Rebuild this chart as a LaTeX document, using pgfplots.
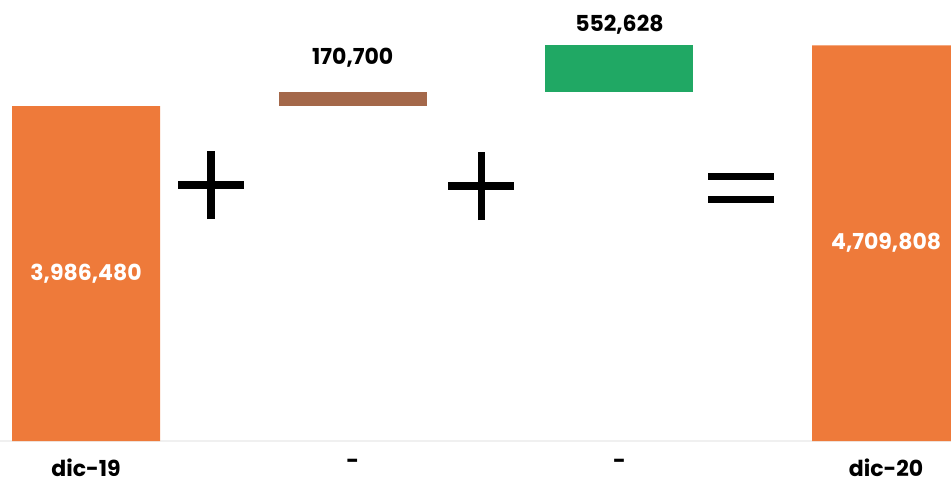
\documentclass[border=0pt]{standalone}
\usepackage{pgfplots}
\pgfplotsset{compat=1.18}
\usepackage{fontspec}
\setmainfont{Poppins}
\definecolor{bar1}{RGB}{238,122,58}
\definecolor{brn}{RGB}{164,104,74}
\definecolor{grn}{RGB}{32,168,100}
\tikzset{vl/.style={font=\fontsize{22bp}{26bp}\selectfont\bfseries}, sg/.style={line width=7.5bp}}
\begin{document}
\begin{tikzpicture}
\path[use as bounding box] (0,-42bp) rectangle (951bp,441bp);
\begin{axis}[
  at={(0,0)}, anchor=south west,
  scale only axis, width=951bp, height=441bp,
  ybar stacked, bar width=148bp,
  xmin=-0.3225, xmax=3.2433, ymin=0, ymax=5250000,
  enlargelimits=false,
  axis x line*=bottom, axis y line=none,
  axis line style={draw=black!6, line width=1.2bp},
  xtick={0,1,2,3}, xticklabels={dic-19,-,-,dic-20},
  xtick style={draw=none},
  scaled y ticks=false,
  xticklabel style={font=\fontsize{22bp}{26bp}\selectfont\bfseries, inner sep=0pt, yshift=-18bp, anchor=north},
]
\addplot[draw=none, fill=white, fill opacity=0] coordinates {(0,0) (1,3986480) (2,4157180) (3,0)};
\addplot[draw=none, fill=bar1] coordinates {(0,3986480) (1,0) (2,0) (3,4709808)};
\addplot[draw=none, fill=brn] coordinates {(0,0) (1,170700) (2,0) (3,0)};
\addplot[draw=none, fill=grn] coordinates {(0,0) (1,0) (2,552628) (3,0)};
\coordinate (L1) at (axis cs:0,1993240);
\coordinate (L4) at (axis cs:3,2354904);
\node[vl] at (axis cs:1,4560000) {170,700};
\node[vl] at (axis cs:2,4960000) {552,628};
\draw[sg] (axis cs:0.345,3047600) -- (axis cs:0.593,3047600);
\draw[sg] (axis cs:0.469,2642800) -- (axis cs:0.469,3452400);
\draw[sg] (axis cs:1.358,3035700) -- (axis cs:1.606,3035700);
\draw[sg] (axis cs:1.482,2630900) -- (axis cs:1.482,3440500);
\draw[sg] (axis cs:2.334,3148800) -- (axis cs:2.578,3148800);
\draw[sg] (axis cs:2.334,2875000) -- (axis cs:2.578,2875000);
\end{axis}
\node[vl, text=white] at (L1) {3,986,480};
\node[vl, text=white] at (L4) {4,709,808};
\end{tikzpicture}
\end{document}
